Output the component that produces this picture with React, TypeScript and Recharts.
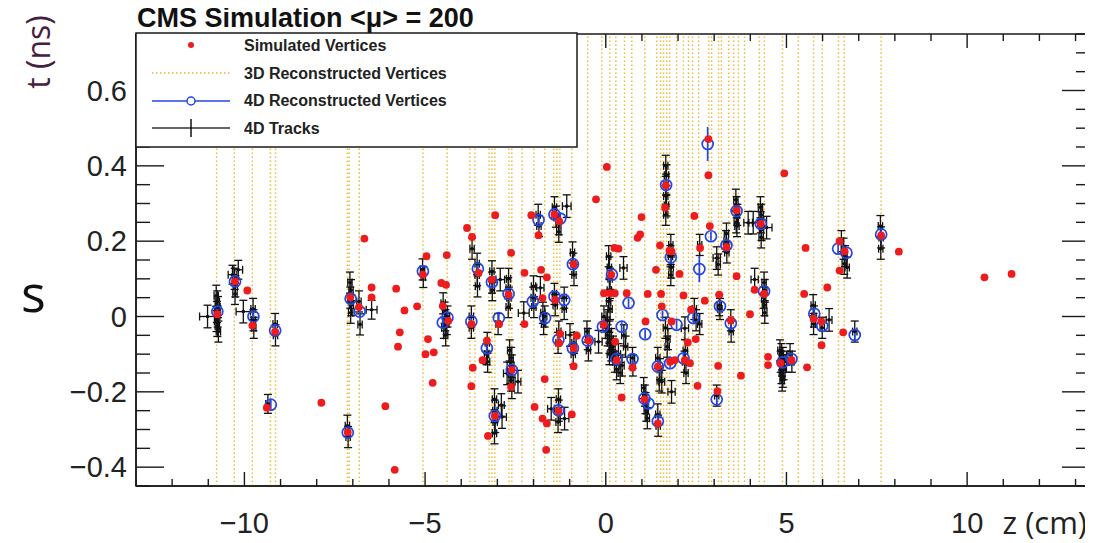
import { ErrorBar, ReferenceArea, ReferenceLine, Scatter, ScatterChart, XAxis, YAxis } from "recharts";

// ---- data (z in cm, t in ns) ----
const xTicks = [-13, -12, -11, -10, -9, -8, -7, -6, -5, -4, -3, -2, -1, 0, 1, 2, 3, 4, 5, 6, 7, 8, 9, 10, 11, 12, 13];
const xMajorLabels = [-10, -5, 0, 5, 10];
const yTicks = [
  -0.45, -0.4, -0.35, -0.3, -0.25, -0.2, -0.15, -0.1, -0.05, 0, 0.05, 0.1, 0.15, 0.2, 0.25, 0.3, 0.35, 0.4, 0.45,
  0.5, 0.55, 0.6, 0.65, 0.7, 0.75,
];
const yMajorLabels = [-0.4, -0.2, 0, 0.2, 0.4, 0.6];

// 3D reconstructed vertices (z only, drawn as dotted vertical lines)
const vertices3D = [
  -10.77, -10.28, -9.78, -9.28, -9.14, -7.15, -7.1, -6.82, -5.06, -4.39, -3.76, -3.62, -3.23, -3.15, -3.07, -2.68,
  -2.6, -2.32, -1.99, -1.69, -1.44, -1.35, -1.27, -0.94, -0.5, -0.11, 0.11, 0.28, 0.52, 0.72, 1.08, 1.41, 1.52, 1.6,
  1.69, 1.77, 1.96, 2.15, 2.29, 2.4, 2.57, 2.85, 2.93, 3.12, 3.2, 3.4, 3.54, 3.67, 3.84, 4.25, 4.39, 4.89, 5.33, 5.75,
  5.99, 6.44, 6.6, 7.62,
];

// simulated vertices [z, t]
const simulatedVertices = [
  [-10.75, 0.006], [-10.26, 0.093], [-9.92, 0.069], [-9.78, -0.024], [-9.15, -0.04], [-9.38, -0.242], [-7.87, -0.229],
  [-7.14, -0.307], [-6.68, 0.207], [-7.07, 0.051], [-6.83, 0.025], [-6.48, 0.077], [-6.48, 0.051], [-6.1, -0.238],
  [-5.84, -0.407], [-5.8, 0.074], [-5.57, 0.016], [-5.7, -0.042], [-5.75, -0.08], [-5.22, 0.027], [-5.06, 0.111],
  [-4.96, 0.16], [-4.99, -0.1], [-4.92, -0.06], [-4.76, -0.095], [-4.79, -0.176], [-4.55, 0.089], [-4.42, 0.084],
  [-4.4, 0.163], [-4.51, 0.028], [-4.36, -0.012], [-3.84, 0.235], [-3.7, 0.211], [-3.52, 0.116], [-3.72, -0.02],
  [-3.68, -0.136], [-3.72, -0.185], [-3.29, -0.064], [-3.41, -0.116], [-3.26, -0.317], [-3.06, 0.269], [-3.15, 0.098],
  [-2.95, -0.02], [-3.07, -0.264], [-2.69, 0.058], [-2.62, 0.169], [-2.6, -0.142], [-2.62, -0.187], [-2.25, 0.116],
  [-2.25, -0.02], [-1.97, -0.24], [-2.06, 0.269], [-1.86, 0.216], [-1.79, 0.124], [-1.75, 0.049], [-1.69, -0.166],
  [-1.75, -0.271], [-1.63, -0.284], [-1.65, -0.354], [-1.63, 0.104], [-1.42, 0.271], [-1.29, 0.253], [-1.4, 0.044],
  [-1.26, -0.046], [-1.29, -0.071], [-1.31, -0.251], [-0.94, -0.26], [-0.89, 0.139], [-0.89, -0.084], [-0.89, -0.132],
  [-0.8, -0.051], [0.03, 0.397], [-0.27, 0.311], [-0.48, -0.064], [-0.06, -0.022], [-0.05, 0.062], [0.15, 0.111],
  [0.24, 0.182], [0.35, 0.18], [0.11, 0.062], [0.25, 0.062], [0.58, 0.062], [0.26, -0.067], [0.3, -0.116],
  [0.44, -0.215], [0.74, -0.136], [0.99, 0.264], [0.88, 0.209], [0.95, 0.218], [1.1, -0.013], [1.07, -0.22],
  [1.16, 0.06], [1.44, -0.133], [1.44, -0.284], [1.39, 0.124], [1.5, 0.189], [1.53, 0.06], [1.55, 0.027],
  [1.76, 0.175], [1.66, 0.348], [1.64, 0.289], [1.82, 0.173], [1.82, -0.013], [1.78, -0.12], [1.91, -0.116],
  [2.04, 0.113], [2.15, 0.056], [2.19, -0.116], [2.33, -0.124], [2.27, -0.069], [2.45, 0.267], [2.49, -0.06],
  [2.54, -0.184], [2.36, 0.018], [2.74, 0.042], [2.84, 0.375], [2.88, 0.24], [2.61, 0.182], [3.09, -0.198],
  [3.14, 0.058], [3.34, 0.184], [3.11, -0.131], [3.62, 0.107], [3.74, -0.157], [3.62, 0.282], [3.99, 0.006],
  [4.12, 0.071], [4.29, 0.246], [4.38, 0.06], [4.49, -0.107], [4.49, -0.129], [2.84, 0.471], [3.46, -0.01],
  [4.84, -0.124], [4.94, 0.38], [5.14, -0.116], [5.49, 0.06], [5.53, 0.182], [5.57, -0.135], [5.75, -0.006],
  [5.97, -0.013], [5.97, -0.076], [6.13, 0.077], [6.47, 0.2], [6.47, 0.122], [6.61, 0.173], [6.57, -0.042],
  [7.62, 0.215], [8.11, 0.172], [10.48, 0.104], [11.23, 0.113],
];

// 4D reconstructed vertices [z, t, t error]
const vertices4D = [
  [-10.75, 0.013, 0.012], [-10.26, 0.093, 0.012], [-9.75, 0.0, 0.012], [-9.15, -0.037, 0.012], [-9.27, -0.234, 0.012],
  [-7.14, -0.308, 0.012], [-7.06, 0.047, 0.012], [-6.81, 0.013, 0.012], [-5.06, 0.12, 0.012], [-4.51, -0.016, 0.012],
  [-4.38, -0.003, 0.012], [-3.72, -0.013, 0.012], [-3.54, 0.127, 0.012], [-3.15, 0.091, 0.012], [-3.29, -0.084, 0.012],
  [-2.96, -0.004, 0.012], [-3.07, -0.264, 0.012], [-2.69, 0.06, 0.012], [-2.6, -0.142, 0.012], [-1.86, 0.256, 0.012],
  [-2.02, 0.04, 0.012], [-1.68, -0.004, 0.012], [-1.42, 0.271, 0.012], [-1.26, 0.26, 0.012], [-1.42, 0.053, 0.012],
  [-1.15, 0.044, 0.012], [-1.31, -0.062, 0.012], [-1.31, -0.249, 0.012], [-0.91, 0.139, 0.012], [-0.91, -0.084, 0.012],
  [-0.5, -0.064, 0.012], [-0.08, -0.027, 0.012], [0.17, 0.111, 0.012], [0.44, -0.027, 0.012], [0.63, 0.036, 0.012],
  [0.3, -0.113, 0.012], [0.74, -0.113, 0.012], [1.09, -0.047, 0.012], [1.07, -0.218, 0.012], [1.18, -0.231, 0.012],
  [1.44, -0.133, 0.012], [1.44, -0.278, 0.012], [1.57, 0.004, 0.012], [1.78, -0.124, 0.012], [1.67, 0.349, 0.012],
  [1.8, 0.157, 0.012], [1.96, -0.022, 0.012], [2.15, -0.111, 0.012], [2.42, -0.004, 0.012], [2.59, 0.126, 0.035],
  [2.82, 0.458, 0.045], [2.91, 0.213, 0.012], [3.16, 0.027, 0.012], [3.07, -0.22, 0.012], [3.34, 0.189, 0.012],
  [3.46, -0.018, 0.012], [3.62, 0.28, 0.012], [4.29, 0.246, 0.012], [4.38, 0.067, 0.012], [4.89, -0.122, 0.012],
  [5.14, -0.113, 0.012], [5.77, 0.007, 0.012], [5.99, -0.025, 0.012], [6.43, 0.18, 0.012], [6.66, 0.169, 0.012],
  [6.89, -0.049, 0.012], [7.62, 0.218, 0.012],
];

// 4D tracks [z, t, z error, t error]
const tracks4D = [
  [-10.78, 0.055, 0.06, 0.028], [-10.75, 0.04, 0.06, 0.028], [-10.73, 0.025, 0.06, 0.028], [-10.76, 0.012, 0.06, 0.028],
  [-10.74, 0.0, 0.06, 0.028], [-10.77, -0.012, 0.06, 0.028], [-10.75, -0.025, 0.06, 0.028], [-10.72, -0.04, 0.06, 0.028],
  [-11.02, 0.0, 0.22, 0.03], [-10.33, 0.111, 0.12, 0.025], [-10.17, 0.124, 0.12, 0.025], [-10.27, 0.1, 0.06, 0.028],
  [-10.25, 0.08, 0.06, 0.028], [-10.26, 0.06, 0.06, 0.028], [-10.03, 0.013, 0.2, 0.03], [-9.76, 0.02, 0.06, 0.028],
  [-9.75, -0.01, 0.06, 0.028], [-9.74, -0.03, 0.06, 0.028], [-9.15, -0.02, 0.06, 0.028], [-9.14, -0.05, 0.06, 0.028],
  [-9.35, -0.232, 0.06, 0.025], [-7.15, -0.29, 0.06, 0.028], [-7.13, -0.32, 0.06, 0.028], [-7.08, 0.09, 0.06, 0.028],
  [-7.05, 0.07, 0.06, 0.028], [-7.07, 0.05, 0.06, 0.028], [-7.04, 0.03, 0.06, 0.028], [-7.06, 0.01, 0.06, 0.028],
  [-6.83, 0.04, 0.06, 0.028], [-6.8, -0.021, 0.06, 0.028], [-6.48, 0.018, 0.15, 0.025], [-5.07, 0.125, 0.06, 0.028],
  [-5.05, 0.105, 0.06, 0.028], [-4.5, 0.035, 0.06, 0.028], [-4.46, 0.01, 0.06, 0.028], [-4.44, -0.01, 0.06, 0.028],
  [-4.48, -0.03, 0.06, 0.028], [-4.43, -0.05, 0.06, 0.028], [-4.38, 0.0, 0.06, 0.028], [-4.4, -0.02, 0.06, 0.028],
  [-3.7, 0.18, 0.06, 0.028], [-3.72, 0.0, 0.06, 0.028], [-3.72, -0.03, 0.06, 0.028], [-3.56, 0.14, 0.06, 0.028],
  [-3.56, 0.11, 0.06, 0.028], [-3.55, 0.08, 0.06, 0.028], [-3.15, 0.12, 0.06, 0.028], [-3.15, 0.09, 0.06, 0.028],
  [-3.14, 0.07, 0.06, 0.028], [-2.92, 0.098, 0.12, 0.03], [-2.69, 0.1, 0.06, 0.028], [-2.7, 0.075, 0.06, 0.028],
  [-2.68, 0.05, 0.06, 0.028], [-2.7, 0.025, 0.06, 0.028], [-1.81, 0.076, 0.1, 0.03], [-2.0, 0.08, 0.06, 0.028],
  [-2.01, 0.05, 0.06, 0.028], [-1.99, 0.025, 0.06, 0.028], [-2.27, 0.009, 0.15, 0.03], [-1.87, 0.27, 0.06, 0.028],
  [-1.85, 0.24, 0.06, 0.028], [-1.42, 0.29, 0.06, 0.028], [-1.38, 0.265, 0.06, 0.028], [-1.3, 0.245, 0.06, 0.028],
  [-1.3, 0.225, 0.06, 0.028], [-1.08, 0.293, 0.12, 0.03], [-1.42, 0.06, 0.06, 0.028], [-1.4, 0.03, 0.06, 0.028],
  [-1.15, 0.05, 0.06, 0.028], [-1.15, 0.02, 0.06, 0.028], [-0.92, 0.17, 0.06, 0.028], [-0.9, 0.14, 0.06, 0.028],
  [-0.88, 0.11, 0.06, 0.028], [0.08, 0.16, 0.06, 0.028], [0.1, 0.13, 0.06, 0.028], [0.12, 0.1, 0.06, 0.028],
  [0.1, 0.07, 0.06, 0.028], [0.08, 0.04, 0.06, 0.028], [0.12, 0.02, 0.06, 0.028], [-3.28, -0.07, 0.06, 0.028],
  [-3.3, -0.1, 0.06, 0.028], [-3.27, -0.12, 0.06, 0.028], [-2.98, -0.02, 0.06, 0.028], [-2.66, -0.09, 0.06, 0.028],
  [-2.62, -0.11, 0.06, 0.028], [-2.6, -0.13, 0.06, 0.028], [-2.64, -0.15, 0.06, 0.028], [-2.62, -0.17, 0.06, 0.028],
  [-2.6, -0.19, 0.06, 0.028], [-2.73, -0.151, 0.1, 0.03], [-2.43, -0.173, 0.08, 0.03], [-3.08, -0.22, 0.06, 0.028],
  [-3.07, -0.25, 0.06, 0.028], [-3.06, -0.28, 0.06, 0.028], [-3.08, -0.31, 0.06, 0.028], [-2.87, -0.267, 0.12, 0.03],
  [-2.89, -0.235, 0.08, 0.03], [-1.69, 0.0, 0.06, 0.028], [-1.72, -0.02, 0.06, 0.028], [-1.74, 0.01, 0.06, 0.028],
  [-1.31, -0.22, 0.06, 0.028], [-1.3, -0.25, 0.06, 0.028], [-1.32, -0.28, 0.06, 0.028], [-1.51, -0.245, 0.1, 0.03],
  [-1.14, -0.271, 0.12, 0.03], [-1.3, -0.04, 0.06, 0.028], [-1.32, -0.07, 0.06, 0.028], [-0.99, -0.049, 0.12, 0.03],
  [-0.88, -0.07, 0.06, 0.028], [-0.9, -0.1, 0.06, 0.028], [-0.52, -0.04, 0.06, 0.028], [-0.5, -0.06, 0.06, 0.028],
  [-0.48, -0.09, 0.06, 0.028], [-0.2, -0.067, 0.1, 0.03], [-0.05, 0.0, 0.06, 0.028], [0.0, -0.03, 0.06, 0.028],
  [0.05, -0.05, 0.06, 0.028], [0.1, -0.07, 0.06, 0.028], [0.15, -0.09, 0.06, 0.028], [0.2, -0.1, 0.06, 0.028],
  [0.05, -0.01, 0.06, 0.028], [0.1, -0.04, 0.06, 0.028], [0.15, -0.06, 0.06, 0.028], [0.2, -0.08, 0.06, 0.028],
  [0.1, -0.1, 0.06, 0.028], [0.25, -0.12, 0.06, 0.028], [0.35, -0.1, 0.06, 0.028], [0.3, -0.14, 0.06, 0.028],
  [0.4, -0.15, 0.06, 0.028], [0.45, -0.13, 0.06, 0.028], [0.5, -0.05, 0.06, 0.028], [0.55, -0.08, 0.06, 0.028],
  [0.49, 0.129, 0.1, 0.03], [0.74, -0.11, 0.06, 0.028], [0.75, -0.13, 0.06, 0.028], [1.66, 0.4, 0.06, 0.028],
  [1.68, 0.375, 0.06, 0.028], [1.67, 0.35, 0.06, 0.028], [1.66, 0.32, 0.06, 0.028], [1.68, 0.295, 0.06, 0.028],
  [1.66, 0.27, 0.06, 0.028], [1.8, 0.19, 0.06, 0.028], [1.79, 0.16, 0.06, 0.028], [1.81, 0.13, 0.06, 0.028],
  [1.8, 0.11, 0.06, 0.028], [2.6, 0.19, 0.06, 0.028], [3.07, 0.155, 0.1, 0.03], [3.11, 0.138, 0.06, 0.028],
  [3.34, 0.22, 0.06, 0.028], [3.33, 0.2, 0.06, 0.028], [3.35, 0.17, 0.06, 0.028], [3.6, 0.31, 0.06, 0.028],
  [3.62, 0.29, 0.06, 0.028], [3.64, 0.27, 0.06, 0.028], [3.61, 0.25, 0.06, 0.028], [3.63, 0.24, 0.06, 0.028],
  [3.94, 0.249, 0.12, 0.03], [4.28, 0.29, 0.06, 0.028], [4.3, 0.27, 0.06, 0.028], [4.29, 0.25, 0.06, 0.028],
  [4.31, 0.23, 0.06, 0.028], [4.3, 0.21, 0.06, 0.028], [4.08, 0.249, 0.12, 0.03], [4.45, 0.236, 0.15, 0.03],
  [4.12, 0.098, 0.1, 0.03], [4.38, 0.09, 0.06, 0.028], [4.4, 0.07, 0.06, 0.028], [4.37, 0.05, 0.06, 0.028],
  [4.39, 0.03, 0.06, 0.028], [4.4, 0.01, 0.06, 0.028], [1.05, -0.19, 0.06, 0.028], [1.08, -0.21, 0.06, 0.028],
  [1.1, -0.23, 0.06, 0.028], [1.12, -0.25, 0.06, 0.028], [1.15, -0.27, 0.06, 0.028], [1.44, -0.26, 0.06, 0.028],
  [1.45, -0.29, 0.06, 0.028], [1.44, -0.11, 0.06, 0.028], [1.5, -0.14, 0.06, 0.028], [1.48, -0.17, 0.06, 0.028],
  [1.82, -0.2, 0.1, 0.03], [1.55, -0.173, 0.08, 0.03], [1.65, -0.03, 0.06, 0.028], [1.72, -0.06, 0.06, 0.028],
  [1.7, -0.08, 0.06, 0.028], [2.2, -0.09, 0.06, 0.028], [2.18, -0.12, 0.06, 0.028], [2.22, -0.15, 0.06, 0.028],
  [2.19, -0.031, 0.1, 0.03], [2.45, 0.02, 0.06, 0.028], [2.5, -0.01, 0.06, 0.028], [2.6, -0.02, 0.06, 0.028],
  [3.14, 0.03, 0.06, 0.028], [3.16, 0.02, 0.06, 0.028], [3.46, -0.01, 0.06, 0.028], [3.47, -0.04, 0.06, 0.028],
  [3.07, -0.21, 0.06, 0.028], [4.82, -0.09, 0.06, 0.028], [4.86, -0.1, 0.06, 0.028], [4.9, -0.11, 0.06, 0.028],
  [4.84, -0.12, 0.06, 0.028], [4.88, -0.13, 0.06, 0.028], [4.92, -0.14, 0.06, 0.028], [4.86, -0.15, 0.06, 0.028],
  [4.9, -0.16, 0.06, 0.028], [4.88, -0.17, 0.06, 0.028], [5.0, -0.12, 0.06, 0.028], [5.1, -0.1, 0.06, 0.028],
  [5.15, -0.12, 0.06, 0.028], [5.74, 0.03, 0.06, 0.028], [5.76, 0.0, 0.06, 0.028], [5.75, -0.02, 0.06, 0.028],
  [5.99, -0.03, 0.06, 0.028], [6.18, -0.009, 0.08, 0.03], [6.52, 0.2, 0.06, 0.028], [6.58, 0.18, 0.06, 0.028],
  [6.62, 0.16, 0.06, 0.028], [6.6, 0.14, 0.06, 0.028], [6.68, 0.13, 0.06, 0.028], [6.89, -0.04, 0.06, 0.028],
  [7.6, 0.24, 0.06, 0.028], [7.62, 0.21, 0.06, 0.028], [7.61, 0.18, 0.06, 0.028],
];

// ---- layout ----
const CHART_W = 1085;
const CHART_H = 535;
const MARGIN = { top: 26, right: 3, left: 0, bottom: 0 };
const Y_AXIS_W = 128;
const X_AXIS_H = 57;
const PLOT_W = CHART_W - MARGIN.left - MARGIN.right - Y_AXIS_W;
const PLOT_H = CHART_H - MARGIN.top - MARGIN.bottom - X_AXIS_H;

const TICK_FONT = "'Liberation Sans', Arial, Helvetica, sans-serif";
const SLIDE_FONT = "'Open Sans', 'Noto Sans', sans-serif";
const AXIS_COLOR = "#1a1a1a";
const GOLD = "#e8b41c";
const RED = "#ee1c1c";
const BLUE = "#2347e6";

const fmt = (v: number) => `${v < 0 ? "\u2212" : ""}${Math.abs(v)}`;
const isMajor = (v: number, list: number[]) => list.some((m) => Math.abs(m - v) < 1e-6);

const XTick = (props: any) => {
  const { x, y, payload } = props;
  const v = payload.value as number;
  const major = isMajor(v, xMajorLabels);
  const len = major ? 14 : 7;
  return (
    <g>
      <line x1={x} x2={x} y1={y} y2={y - len} stroke={AXIS_COLOR} strokeWidth={1.4} />
      <line x1={x} x2={x} y1={y - PLOT_H} y2={y - PLOT_H + len} stroke={AXIS_COLOR} strokeWidth={1.4} />
      {major && (
        <text x={x} y={y + 47} textAnchor="middle" fontSize={29} fill="#222" fontFamily={TICK_FONT}>
          {fmt(v)}
        </text>
      )}
    </g>
  );
};

const YTick = (props: any) => {
  const { x, y, payload } = props;
  const v = payload.value as number;
  const major = isMajor(v, yMajorLabels);
  const len = major ? 28 : 14;
  return (
    <g>
      <line x1={x} x2={x + len} y1={y} y2={y} stroke={AXIS_COLOR} strokeWidth={1.4} />
      <line x1={x + PLOT_W} x2={x + PLOT_W - len} y1={y} y2={y} stroke={AXIS_COLOR} strokeWidth={1.4} />
      {major && (
        <text x={x - 9} y={y + 10} textAnchor="end" fontSize={29} fill="#222" fontFamily={TICK_FONT}>
          {fmt(Math.round(v * 10) / 10)}
        </text>
      )}
    </g>
  );
};

const TrackDot = (p: any) => <circle cx={p.cx} cy={p.cy} r={1.8} fill="#111" />;
const RecoCircle = (p: any) => <circle cx={p.cx} cy={p.cy} r={5.5} fill="none" stroke={BLUE} strokeWidth={1.7} />;
const SimDot = (p: any) => <circle cx={p.cx} cy={p.cy} r={3.9} fill={RED} />;

const trackData = tracks4D.map(([z, t, ez, et]) => ({ z, t, ez, et }));
const recoData = vertices4D.map(([z, t, et]) => ({ z, t, et }));
const simData = simulatedVertices.map(([z, t]) => ({ z, t }));

const legendRows = ["Simulated Vertices", "3D Reconstructed Vertices", "4D Reconstructed Vertices", "4D Tracks"];

export default function App() {
  const lx = MARGIN.left + Y_AXIS_W;
  const ly = MARGIN.top - 1;
  return (
    <div style={{ position: "relative", width: CHART_W, height: CHART_H, background: "#fff" }}>
      <ScatterChart width={CHART_W} height={CHART_H} margin={MARGIN}>
        <XAxis
          type="number"
          dataKey="z"
          domain={[-13, 13.4]}
          ticks={xTicks}
          interval={0}
          allowDataOverflow
          height={X_AXIS_H}
          tick={<XTick />}
          tickLine={false}
          tickSize={0}
          tickMargin={0}
          axisLine={{ stroke: AXIS_COLOR, strokeWidth: 1.5 }}
        />
        <YAxis
          type="number"
          dataKey="t"
          domain={[-0.45, 0.75]}
          ticks={yTicks}
          interval={0}
          allowDataOverflow
          width={Y_AXIS_W}
          tick={<YTick />}
          tickLine={false}
          tickSize={0}
          tickMargin={0}
          axisLine={{ stroke: AXIS_COLOR, strokeWidth: 1.5 }}
        />
        {vertices3D.map((z) => (
          <ReferenceLine key={z} x={z} stroke={GOLD} strokeOpacity={0.9} strokeWidth={1.4} strokeDasharray="1.4 2.6" />
        ))}
        <ReferenceArea x1={-13} x2={13.4} y1={-0.45} y2={0.75} fill="none" stroke={AXIS_COLOR} strokeWidth={1.5} />
        <Scatter data={trackData} shape={TrackDot} isAnimationActive={false}>
          <ErrorBar dataKey="et" direction="y" width={4} stroke="#111" strokeWidth={1.3} isAnimationActive={false} />
          <ErrorBar dataKey="ez" direction="x" width={4} stroke="#111" strokeWidth={1.3} isAnimationActive={false} />
        </Scatter>
        <Scatter data={recoData} shape={RecoCircle} isAnimationActive={false}>
          <ErrorBar dataKey="et" direction="y" width={0} stroke={BLUE} strokeWidth={1.7} isAnimationActive={false} />
        </Scatter>
        <Scatter data={simData} shape={SimDot} isAnimationActive={false} />
      </ScatterChart>

      <svg
        width={CHART_W}
        height={CHART_H}
        style={{ position: "absolute", left: 0, top: 0, pointerEvents: "none", overflow: "visible" }}
      >
        <text x={129} y={19} fontSize={27} fontWeight="bold" fill="#111" fontFamily={TICK_FONT}>
          {"CMS Simulation <\u03bc> = 200"}
        </text>
        <text x={42} y={44} transform="rotate(-90 42 44)" textAnchor="middle" fontSize={32} fill="#45203f" fontFamily={SLIDE_FONT}>
          t (ns)
        </text>
        <text x={13} y={304} fontSize={52} fill="#111" fontFamily={SLIDE_FONT}>
          s
        </text>
        <text x={1079} y={526} textAnchor="end" fontSize={31} fill="#222" fontFamily={SLIDE_FONT}>
          z (cm)
        </text>

        <g transform={`translate(${lx},${ly})`}>
          <rect x={0} y={0} width={441} height={114} fill="#fff" stroke={AXIS_COLOR} strokeWidth={1.5} />
          <circle cx={55} cy={12} r={3} fill={RED} />
          <line x1={16} x2={94} y1={40} y2={40} stroke={GOLD} strokeWidth={1.3} strokeDasharray="1.4 2.6" />
          <line x1={16} x2={94} y1={68} y2={68} stroke={BLUE} strokeWidth={1.5} />
          <circle cx={55} cy={68} r={4} fill="#fff" stroke={BLUE} strokeWidth={1.5} />
          <line x1={16} x2={94} y1={95} y2={95} stroke="#333" strokeWidth={1.5} />
          <line x1={55} x2={55} y1={86} y2={104} stroke="#111" strokeWidth={1.5} />
          {legendRows.map((label, i) => (
            <text key={label} x={108} y={18 + i * 27.7} fontSize={16} fontWeight="bold" fill="#222" fontFamily={TICK_FONT}>
              {label}
            </text>
          ))}
        </g>
      </svg>
    </div>
  );
}
